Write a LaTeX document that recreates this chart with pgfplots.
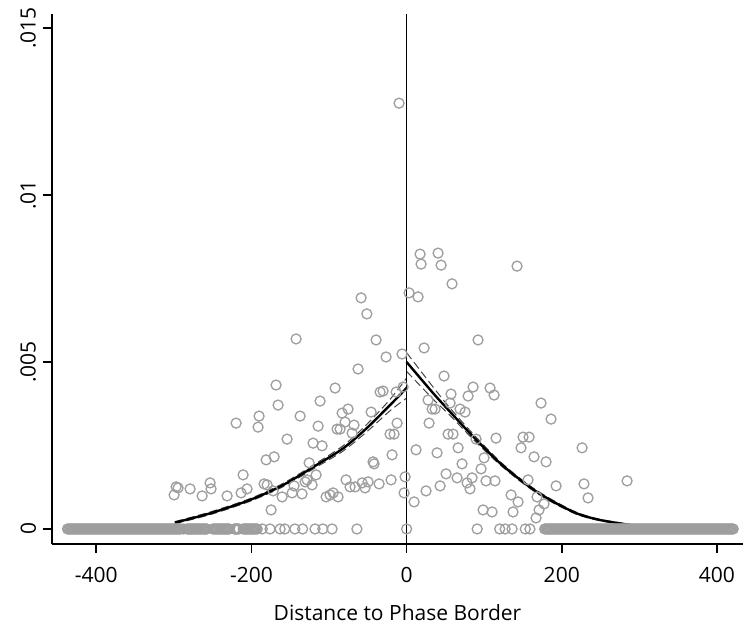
\documentclass[border=0pt]{standalone}
\usepackage{fontspec}
\setmainfont{Open Sans}
\usepackage{pgfplots}
\pgfplotsset{compat=1.18}
\usepackage{pgfplotstable}

\definecolor{markgray}{RGB}{158,158,158}
\definecolor{cigray}{RGB}{70,70,70}

% nonzero observations, left of the border
\pgfplotstableread{
x y
-9.7 0.01275
-58.6 0.00692
-51.2 0.00644
-142.4 0.00569
-39.3 0.00566
-62.5 0.00479
-26.4 0.00515
-5.8 0.00524
-168.2 0.00431
-92.1 0.00422
-34.1 0.00410
-30.3 0.00413
-13.5 0.00410
-4.5 0.00425
-111.5 0.00383
-165.6 0.00371
-75.4 0.00359
-83.1 0.00347
-45.7 0.00350
-190.1 0.00338
-137.2 0.00338
-219.7 0.00317
-191.4 0.00305
-114.0 0.00308
-79.3 0.00320
-67.7 0.00311
-12.2 0.00317
-21.3 0.00284
-16.1 0.00284
-89.6 0.00299
-85.7 0.00299
-70.2 0.00287
-154.0 0.00269
-120.5 0.00257
-108.9 0.00249
-170.7 0.00216
-181.0 0.00207
-18.7 0.00222
-125.6 0.00198
-43.2 0.00201
-41.9 0.00195
-116.6 0.00162
-210.7 0.00162
-128.2 0.00147
-130.8 0.00141
-121.8 0.00132
-78.0 0.00147
-72.8 0.00126
-66.4 0.00126
-57.3 0.00138
-53.5 0.00123
-49.6 0.00141
-35.4 0.00135
-20.0 0.00147
-253.2 0.00138
-252.0 0.00120
-297.0 0.00126
-294.5 0.00123
-279.0 0.00120
-299.6 0.00102
-263.5 0.00099
-231.3 0.00099
-213.3 0.00108
-205.6 0.00120
-183.6 0.00135
-179.7 0.00132
-172.0 0.00114
-160.4 0.00096
-147.5 0.00108
-134.7 0.00105
-145.0 0.00129
-103.7 0.00096
-94.7 0.00108
-98.6 0.00102
-88.3 0.00096
-174.6 0.00057
-1.9 0.00156
-3.2 0.00108
}\leftpts

% nonzero observations, right of the border
\pgfplotstableread{
x y
17.4 0.00823
40.6 0.00826
18.7 0.00793
44.5 0.00790
142.4 0.00787
58.6 0.00734
3.2 0.00707
14.8 0.00695
92.1 0.00566
22.6 0.00542
48.3 0.00458
57.3 0.00404
85.7 0.00425
79.3 0.00398
107.6 0.00422
112.8 0.00401
173.3 0.00377
186.2 0.00329
27.7 0.00386
32.9 0.00359
36.7 0.00359
56.1 0.00377
68.9 0.00359
75.4 0.00350
29.0 0.00317
53.5 0.00284
59.9 0.00284
89.6 0.00269
115.3 0.00272
150.1 0.00275
157.9 0.00275
147.5 0.00243
226.2 0.00243
12.2 0.00237
39.3 0.00228
66.4 0.00243
164.3 0.00216
179.8 0.00201
71.5 0.00195
99.9 0.00213
96.0 0.00180
50.9 0.00165
65.1 0.00153
84.4 0.00153
102.4 0.00144
114.0 0.00144
78.0 0.00138
81.8 0.00120
43.2 0.00129
25.1 0.00114
156.6 0.00147
192.7 0.00129
228.7 0.00135
284.2 0.00144
134.7 0.00102
143.7 0.00081
168.1 0.00096
177.2 0.00075
233.9 0.00093
170.7 0.00057
166.9 0.00033
137.2 0.00051
98.6 0.00057
110.2 0.00051
9.7 0.00081
}\rightpts

% observations with value zero (left and centre)
\pgfplotstableread{
x y
-437 0
-435.5 0
-434 0
-432.5 0
-431 0
-429.5 0
-428 0
-426.5 0
-425 0
-423.5 0
-422 0
-420.5 0
-419 0
-417.5 0
-416 0
-414.5 0
-413 0
-411.5 0
-410 0
-408.5 0
-407 0
-405.5 0
-404 0
-402.5 0
-401 0
-399.5 0
-398 0
-396.5 0
-395 0
-393.5 0
-392 0
-390.5 0
-389 0
-387.5 0
-386 0
-384.5 0
-383 0
-381.5 0
-380 0
-378.5 0
-377 0
-375.5 0
-374 0
-372.5 0
-371 0
-369.5 0
-368 0
-366.5 0
-365 0
-363.5 0
-362 0
-360.5 0
-359 0
-357.5 0
-356 0
-354.5 0
-353 0
-351.5 0
-350 0
-348.5 0
-347 0
-345.5 0
-344 0
-342.5 0
-341 0
-339.5 0
-338 0
-336.5 0
-335 0
-333.5 0
-332 0
-330.5 0
-329 0
-327.5 0
-326 0
-324.5 0
-323 0
-321.5 0
-320 0
-318.5 0
-317 0
-315.5 0
-314 0
-312.5 0
-311 0
-309.5 0
-308 0
-306.5 0
-305 0
-303.5 0
-302 0
-300.5 0
-299 0
-297.5 0
-296 0
-294.5 0
-293 0
-291.5 0
-287.5 0
-283 0
-281.5 0
-280 0
-278.5 0
-277 0
-275.5 0
-274 0
-272.5 0
-271 0
-269.5 0
-268 0
-266.5 0
-265 0
-263.5 0
-262 0
-260.5 0
-259 0
-257.5 0
-249.5 0
-248 0
-246.5 0
-245 0
-243.5 0
-242 0
-240.5 0
-239 0
-237.5 0
-236 0
-234.5 0
-233 0
-231.5 0
-230 0
-228.5 0
-222 0
-220.5 0
-219 0
-217.5 0
-216 0
-210.5 0
-209 0
-207.5 0
-206 0
-204.5 0
-203 0
-201.5 0
-200 0
-198.5 0
-197 0
-195.5 0
-194 0
-192.5 0
-186 0
-176 0
-163 0
-157 0
-144 0
-134 0
-118 0
-108 0
-96 0
-64 0
0 0
91 0
120 0
127 0
136 0
153 0
159 0
}\zeropts

% observations with value zero (right)
\pgfplotstableread{
x y
178 0
179.5 0
181 0
182.5 0
184 0
185.5 0
187 0
188.5 0
190 0
191.5 0
193 0
194.5 0
196 0
197.5 0
199 0
200.5 0
202 0
203.5 0
205 0
206.5 0
208 0
209.5 0
211 0
212.5 0
214 0
215.5 0
217 0
218.5 0
220 0
221.5 0
223 0
224.5 0
226 0
227.5 0
229 0
230.5 0
232 0
233.5 0
235 0
236.5 0
238 0
239.5 0
241 0
242.5 0
244 0
245.5 0
247 0
248.5 0
250 0
251.5 0
253 0
254.5 0
256 0
257.5 0
259 0
260.5 0
262 0
263.5 0
265 0
266.5 0
268 0
269.5 0
271 0
272.5 0
274 0
275.5 0
277 0
278.5 0
280 0
281.5 0
283 0
284.5 0
286 0
287.5 0
289 0
290.5 0
292 0
293.5 0
295 0
296.5 0
298 0
299.5 0
301 0
302.5 0
304 0
305.5 0
307 0
308.5 0
310 0
311.5 0
313 0
314.5 0
316 0
317.5 0
319 0
320.5 0
322 0
323.5 0
325 0
326.5 0
328 0
329.5 0
331 0
332.5 0
334 0
335.5 0
337 0
338.5 0
340 0
341.5 0
343 0
344.5 0
346 0
347.5 0
349 0
350.5 0
352 0
353.5 0
355 0
356.5 0
358 0
359.5 0
361 0
362.5 0
364 0
365.5 0
367 0
368.5 0
370 0
371.5 0
373 0
374.5 0
376 0
377.5 0
379 0
380.5 0
382 0
383.5 0
385 0
386.5 0
388 0
389.5 0
391 0
392.5 0
394 0
395.5 0
397 0
398.5 0
400 0
401.5 0
403 0
404.5 0
406 0
407.5 0
409 0
410.5 0
412 0
413.5 0
415 0
416.5 0
418 0
419.5 0
421 0
}\zeroright

% fitted values and confidence bounds
\pgfplotstableread{
x fit lo hi
-298.7 0.00019 0.00016 0.00022
-253.0 0.00047 0.00043 0.00051
-201.7 0.00087 0.00083 0.00091
-158.8 0.00132 0.00127 0.00137
-115.7 0.00192 0.00186 0.00198
-81.4 0.00242 0.00234 0.00250
-51.3 0.00302 0.00291 0.00313
-21.3 0.00371 0.00354 0.00388
0.0 0.00422 0.00392 0.00452
}\leftfit
\pgfplotstableread{
x fit lo hi
0.0 0.00500 0.00472 0.00528
34.5 0.00406 0.00388 0.00424
56.0 0.00351 0.00340 0.00362
86.0 0.00276 0.00268 0.00284
120.5 0.00197 0.00192 0.00202
155.0 0.00132 0.00128 0.00136
185.0 0.00087 0.00083 0.00091
219.0 0.00047 0.00044 0.00050
249.0 0.00027 0.00025 0.00029
288.0 0.00012 0.00010 0.00014
}\rightfit

\begin{document}
\begin{tikzpicture}[font=\fontsize{10.5bp}{12.6bp}\selectfont]
\begin{axis}[
    name=ax,
    scale only axis,
    width=345.5bp, height=265bp,
    xmin=-457, xmax=433.6,
    ymin=-0.00045, ymax=0.01542,
    axis x line*=bottom, axis y line*=left,
    axis line style={line width=0.75bp, -},
    xtick={-400,-200,0,200,400},
    xticklabels={-400,-200,0,200,400},
    ytick={0,0.005,0.01,0.015},
    yticklabels={0,.005,.01,.015},
    scaled y ticks=false,
    tick align=outside,
    major tick length=4.5bp,
    tick style={line width=0.75bp, black},
    yticklabel style={rotate=90, anchor=south},
    xticklabel style={yshift=-3.5bp},
    xlabel style={yshift=-4bp},
    xlabel={Distance to Phase Border},
    clip=false,
    scatter/.style={only marks, mark=o, mark size=2.5bp,
        mark options={draw=markgray, line width=0.65bp}},
]
% observations
\addplot[scatter] table[x=x, y=y] {\zeropts};
\addplot[scatter] table[x=x, y=y] {\zeroright};
\addplot[scatter] table[x=x, y=y] {\leftpts};
\addplot[scatter] table[x=x, y=y] {\rightpts};
% confidence bounds
\addplot[cigray, line width=0.5bp, dash pattern=on 4bp off 2bp, smooth, no markers] table[x=x, y=lo] {\leftfit};
\addplot[cigray, line width=0.5bp, dash pattern=on 4bp off 2bp, smooth, no markers] table[x=x, y=hi] {\leftfit};
\addplot[cigray, line width=0.5bp, dash pattern=on 4bp off 2bp, smooth, no markers] table[x=x, y=lo] {\rightfit};
\addplot[cigray, line width=0.5bp, dash pattern=on 4bp off 2bp, smooth, no markers] table[x=x, y=hi] {\rightfit};
% fitted lines
\addplot[black, line width=1.2bp, smooth, no markers] table[x=x, y=fit] {\leftfit};
\addplot[black, line width=1.2bp, smooth, no markers] table[x=x, y=fit] {\rightfit};
% border
\addplot[black, line width=0.75bp, no markers] coordinates {(0,-0.00045) (0,0.01542)};
\end{axis}
\pgfresetboundingbox
\path[use as bounding box] ([shift={(-26bp,-40.5bp)}]ax.south west) rectangle ([shift={(345.5bp,272bp)}]ax.south west);
\end{tikzpicture}
\end{document}
